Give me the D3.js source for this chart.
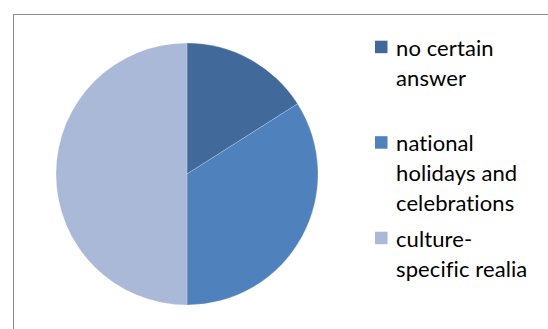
<!DOCTYPE html>
<html><head><meta charset="utf-8">
<script src="https://cdn.jsdelivr.net/npm/d3@7"></script>
<style>html,body{margin:0;padding:0;background:#fff;}svg{display:block;}</style>
</head><body>
<script>
const categories = ["no certain answer", "national holidays and celebrations", "culture-specific realia"];
const legendLines = [["no certain", "answer"], ["national", "holidays and", "celebrations"], ["culture-", "specific realia"]];
const values = [16, 34, 50];
const colors = ["#41699a", "#4f81bd", "#aab9d7"];

const W = 548, H = 329;
const svg = d3.select("body").append("svg").attr("width", W).attr("height", H);

svg.append("rect").attr("x", 13.5).attr("y", 14.5).attr("width", 600).attr("height", 400)
  .attr("fill", "none").attr("stroke", "#8c8c8c").attr("stroke-width", 1);

const cx = 187, cy = 174, r = 131;
const pie = d3.pie().sort(null).value(d => d)(values);
const arc = d3.arc().innerRadius(0).outerRadius(r);
const color = d3.scaleOrdinal().domain(categories).range(colors);

svg.append("g").attr("transform", `translate(${cx},${cy})`)
  .selectAll("path").data(pie).join("path")
  .attr("d", arc).attr("fill", (d, i) => color(categories[i]))
  .attr("stroke", "#ffffff").attr("stroke-opacity", 0.35).attr("stroke-width", 0.6);

const lg = svg.append("g");
const items = lg.selectAll("g").data(categories).join("g")
  .attr("transform", (d, i) => `translate(0,${55.7 + i * 95.5})`);
items.append("rect").attr("x", 375).attr("y", -15).attr("width", 12.5).attr("height", 12.5)
  .attr("fill", d => color(d));
items.append("text").attr("x", 396).attr("y", 0)
  .attr("font-family", "Lato, 'Noto Sans', sans-serif").attr("font-size", 22).attr("fill", "#000")
  .attr("letter-spacing", 0.1)
  .selectAll("tspan").data((d, i) => legendLines[i]).join("tspan")
  .attr("x", 396).attr("dy", (d, j) => j === 0 ? 0 : 30).text(d => d);
</script>
</body></html>
